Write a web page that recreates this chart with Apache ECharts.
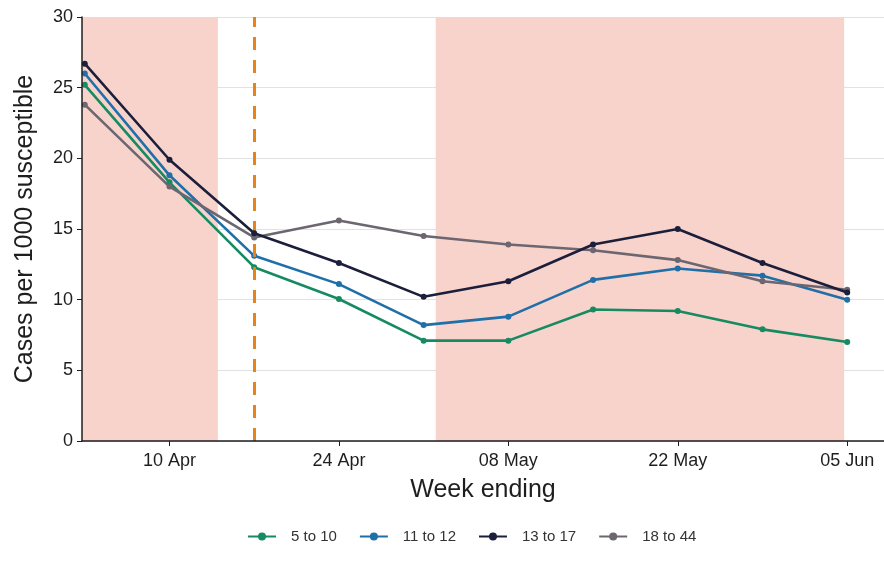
<!DOCTYPE html>
<html>
<head>
<meta charset="utf-8">
<script src="https://cdn.jsdelivr.net/npm/echarts@6/dist/echarts.min.js"></script>
<style>
  html, body { margin: 0; padding: 0; background: #fff; }
  #chart { width: 884px; height: 571px; }
</style>
</head>
<body>
<div id="chart"></div>
<script>
// Week-ending dates (2021) and weekly rates per age band
const weeks = ['2021-04-03', '2021-04-10', '2021-04-17', '2021-04-24', '2021-05-01',
               '2021-05-08', '2021-05-15', '2021-05-22', '2021-05-29', '2021-06-05'];
const age5to10  = [25.2, 18.3, 12.3, 10.05, 7.1, 7.1, 9.3, 9.2, 7.9, 7.0];
const age11to12 = [26.0, 18.8, 13.1, 11.1, 8.2, 8.8, 11.4, 12.2, 11.7, 10.0];
const age13to17 = [26.7, 19.9, 14.7, 12.6, 10.2, 11.3, 13.9, 15.0, 12.6, 10.5];
const age18to44 = [23.8, 18.0, 14.4, 15.6, 14.5, 13.9, 13.5, 12.8, 11.3, 10.7];
const seriesNames = ['5 to 10', '11 to 12', '13 to 17', '18 to 44'];
const seriesColors = ['#168a60', '#1f6fa8', '#1b1f3b', '#6c6670'];

// Axis tick dates, visible date range and shaded periods
const tickDates = ['2021-04-10', '2021-04-24', '2021-05-08', '2021-05-22', '2021-06-05'];
const axisRange = ['2021-04-02T18:30', '2021-06-08T01:00'];
const shadedPeriods = [['2021-04-02T18:30', '2021-04-14T00:00'], ['2021-05-02T00:00', '2021-06-04T18:00']];
const markerDate = '2021-04-17';

// The x axis is measured in days from this origin
const ORIGIN = Date.UTC(2021, 3, 10);
const DAY = 86400000;
const MONTHS = ['Jan','Feb','Mar','Apr','May','Jun','Jul','Aug','Sep','Oct','Nov','Dec'];
const toDay = s => (Date.parse(s.length === 10 ? s + 'T00:00:00Z' : s + ':00Z') - ORIGIN) / DAY;
const fmt = v => {
  const d = new Date(ORIGIN + Math.round(v) * DAY);
  return String(d.getUTCDate()).padStart(2, '0') + ' ' + MONTHS[d.getUTCMonth()];
};

const allSeries = [age5to10, age11to12, age13to17, age18to44];
const FONT = '"Liberation Sans", Arial, sans-serif';
const INK = '#1e1e1e';

const series = allSeries.map((vals, i) => ({
  name: seriesNames[i],
  type: 'line',
  data: weeks.map((w, k) => [toDay(w), vals[k]]),
  symbol: 'circle',
  symbolSize: 6,
  z: i === 2 ? 5 : 3,
  lineStyle: { width: 2.6, color: seriesColors[i] },
  itemStyle: { color: seriesColors[i] }
}));

// Shaded periods and the dashed reference date
series.push({
  type: 'line',
  data: [],
  silent: true,
  z: 1,
  markArea: {
    silent: true,
    itemStyle: { color: '#f8d3cc' },
    data: shadedPeriods.map(p => [{ xAxis: toDay(p[0]) }, { xAxis: toDay(p[1]) }])
  },
  markLine: {
    silent: true,
    symbol: 'none',
    label: { show: false },
    lineStyle: { color: '#e8831c', width: 3, type: [13, 10] },
    data: [{ xAxis: toDay(markerDate) }]
  }
});

const tickValues = tickDates.map(toDay);

const chart = echarts.init(document.getElementById('chart'));
chart.setOption({
  animation: false,
  backgroundColor: '#ffffff',
  textStyle: { fontFamily: FONT },
  grid: { left: 82, right: 0, top: 17, bottom: 130 },
  legend: {
    data: seriesNames,
    top: 524,
    left: 242,
    itemWidth: 28,
    itemHeight: 10,
    itemGap: 22,
    textStyle: { fontSize: 15, color: '#333', fontFamily: FONT, padding: [0, 0, 0, 10] }
  },
  xAxis: {
    type: 'value',
    z: 10,
    min: toDay(axisRange[0]),
    max: toDay(axisRange[1]),
    name: 'Week ending',
    nameLocation: 'middle',
    nameGap: 37,
    nameTextStyle: { fontSize: 25, color: INK, fontFamily: FONT },
    axisLine: { show: true, onZero: false, lineStyle: { color: INK, width: 1.5 } },
    axisTick: { show: true, length: 5, lineStyle: { color: INK }, customValues: tickValues },
    axisLabel: { fontSize: 18, color: INK, margin: 11, customValues: tickValues, formatter: v => fmt(v) },
    splitLine: { show: false }
  },
  yAxis: [{
    type: 'value',
    z: 10,
    min: 0,
    max: 30,
    interval: 5,
    name: 'Cases per 1000 susceptible',
    nameLocation: 'middle',
    nameGap: 44,
    nameTextStyle: { fontSize: 25, color: INK, fontFamily: FONT },
    axisLine: { show: true, onZero: false, lineStyle: { color: INK, width: 1.5 } },
    axisTick: { show: true, length: 5, lineStyle: { color: INK } },
    axisLabel: { fontSize: 18, color: INK, margin: 9 },
    splitLine: { show: false }
  }, {
    // background grid lines, kept beneath the shaded periods
    type: 'value',
    z: 0,
    min: 0,
    max: 30,
    interval: 5,
    axisLine: { show: false },
    axisTick: { show: false },
    axisLabel: { show: false },
    splitLine: { show: true, lineStyle: { color: '#e2e2e2', width: 1 } }
  }],
  series: series
});
</script>
</body>
</html>
